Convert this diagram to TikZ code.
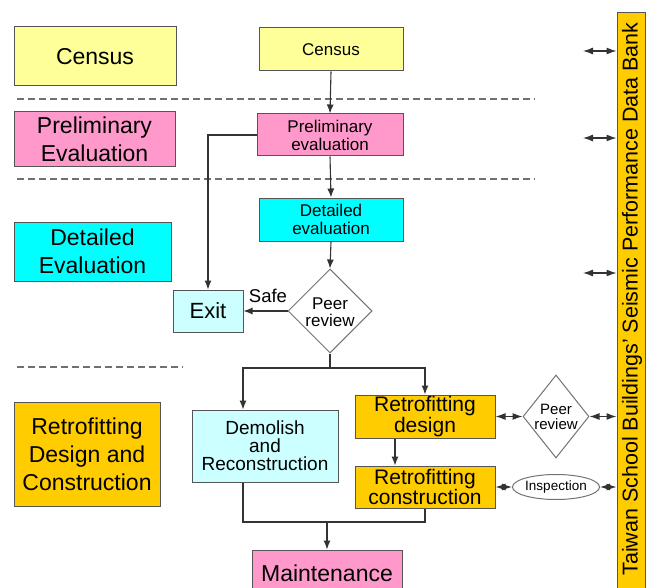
\documentclass[tikz,border=0pt]{standalone}
\usepackage{fontspec}
\setmainfont{Liberation Sans}
\usetikzlibrary{shapes.geometric,arrows.meta}
\definecolor{cyel}{HTML}{FFFF99}
\definecolor{cpink}{HTML}{FF99CC}
\definecolor{ccyan}{HTML}{00FFFF}
\definecolor{clcyan}{HTML}{CCFFFF}
\definecolor{cgold}{HTML}{FFCC00}
\definecolor{cline}{HTML}{333333}
\definecolor{cbord}{HTML}{555555}
\definecolor{csep}{HTML}{707070}
\tikzset{
  box/.style={draw=cbord, line width=1pt, rectangle, inner sep=0pt, align=center},
  big/.style={font=\fontsize{23}{28}\selectfont},
  small/.style={font=\fontsize{17}{18}\selectfont},
  conn/.style={draw=cline, line width=1.1pt},
  arr/.style={conn, -{Latex[length=9pt,width=7pt]}},
  darr/.style={conn, {Latex[length=10pt,width=7pt]}-{Latex[length=10pt,width=7pt]}},
  sep/.style={draw=csep, line width=1.2pt, dash pattern=on 7pt off 4pt},
  dia/.style={draw=gray!90!black, line width=1pt, diamond, inner sep=0pt, fill=white},
}
\begin{document}
\begin{tikzpicture}[x=1pt,y=-1pt]
\useasboundingbox (0,0) rectangle (647,588);
\clip (0,0) rectangle (647,588);
% left labels
\node[box, big, fill=cyel, minimum width=162, minimum height=59] (lcen) at (95,56.5) {Census};
\node[box, big, fill=cpink, minimum width=161, minimum height=55] (lpre) at (94.5,139.5) {Preliminary\\Evaluation};
\node[box, big, fill=ccyan, minimum width=157, minimum height=59] (ldet) at (92.5,251.5) {Detailed\\Evaluation};
\node[box, big, fill=cgold, minimum width=146, minimum height=104] (lret) at (87,454) {Retrofitting\\Design and\\Construction};
% separators
\draw[sep] (17,99) -- (535,99);
\draw[sep] (17,179) -- (535,179);
\draw[sep] (17,367) -- (183,367);
% flow boxes
\node[box, small, fill=cyel, minimum width=144, minimum height=43] (cen) at (331,49.5) {Census};
\node[box, small, fill=cpink, minimum width=146, minimum height=42] (pre) at (330,135) {Preliminary\\evaluation};
\node[box, small, fill=ccyan, minimum width=144, minimum height=43] (det) at (331,219.5) {Detailed\\evaluation};
\node[dia, minimum width=84, minimum height=84] (pr1) at (330,311) {};
\node[font=\fontsize{17}{17}\selectfont, align=center, inner sep=0pt] (pr1t) at (330,312) {Peer\\review};
\node[box, font=\fontsize{22}{26}\selectfont, fill=clcyan, minimum width=70, minimum height=42] (exit) at (208,311) {Exit};
\node[box, font=\fontsize{19}{18}\selectfont, fill=clcyan, minimum width=146, minimum height=72] (dem) at (265,446) {Demolish\\and\\Reconstruction};
\node[box, font=\fontsize{21}{17.5}\selectfont, fill=cgold, minimum width=140, minimum height=43] (rd) at (425,416.5) {Retrofitting\\design};
\node[box, font=\fontsize{21}{17.5}\selectfont, fill=cgold, minimum width=140, minimum height=42] (rc) at (425,487) {Retrofitting\\construction};
\node[box, font=\fontsize{23}{28}\selectfont, fill=cpink, minimum width=150, minimum height=50] (mai) at (327,575) {\raisebox{4pt}{Maintenance}};
\node[dia, minimum width=66, minimum height=83] (pr2) at (556,416.5) {};
\node[font=\fontsize{15}{15}\selectfont, align=center, inner sep=0pt] (pr2t) at (556,417) {Peer\\review};
\node[draw=gray!90!black, line width=1pt, ellipse, inner sep=0pt, minimum width=74, minimum height=25, font=\fontsize{13.5}{14}\selectfont] (ins) at (556,487) {Inspection};
% data bank bar
\node[box, fill=cgold, minimum width=28, minimum height=587] (bank) at (631,306.5) {};
\node[rotate=90, font=\fontsize{21.5}{22}\selectfont, inner sep=0pt] (bankt) at (632,299) {Taiwan School Buildings' Seismic Performance Data Bank};
% connectors
\draw[arr] (cen.south) -- (pre.north);
\draw[arr] (pre.south) -- (det.north);
\draw[arr] (det.south) -- (pr1.north);
\draw[arr] (pre.west) -| (exit.north);
\draw[arr] (pr1.west) -- (exit.east);
\node[font=\fontsize{18.5}{20}\selectfont, inner sep=0pt] (safe) at (268,296) {Safe};
\coordinate (br) at (330,368);
\coordinate (xl) at (243,0);
\coordinate (xr) at (425,0);
\coordinate (xm) at (395,0);
\coordinate (mg) at (327,522);
\draw[conn] (pr1.south) -- (br);
\draw[arr] (br) -| (dem.north -| xl);
\draw[arr] (br) -| (rd.north -| xr);
\draw[arr] (rd.south -| xm) -- (rc.north -| xm);
\draw[conn] (dem.south -| xl) |- (mg) -| (rc.south -| xr);
\draw[arr] (mg) -- (mai.north);
\draw[darr] (rd.east) -- (pr2.west);
\draw[darr] (pr2.east) -- (pr2.east -| bank.west);
\draw[darr] (rc.east) -- (ins.west);
\draw[darr] (ins.east) -- (ins.east -| bank.west);
\coordinate (a1) at (583,51);
\coordinate (a2) at (583,138);
\coordinate (a3) at (583,273);
\draw[darr] (a1) -- (a1 -| bank.west);
\draw[darr] (a2) -- (a2 -| bank.west);
\draw[darr] (a3) -- (a3 -| bank.west);
\end{tikzpicture}
\end{document}
